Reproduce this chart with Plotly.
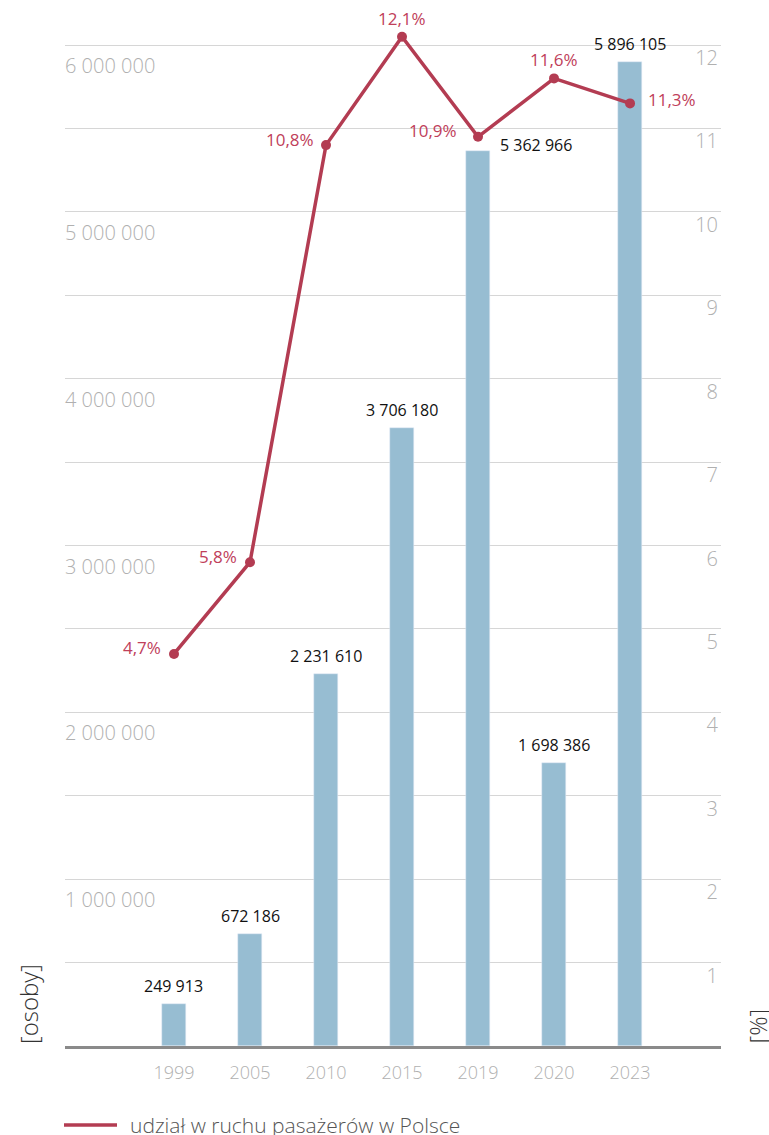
import plotly.graph_objects as go

years = ["1999", "2005", "2010", "2015", "2019", "2020", "2023"]
passengers = [249913, 672186, 2231610, 3706180, 5362966, 1698386, 5896105]
passenger_labels = ["249 913", "672 186", "2 231 610", "3 706 180", "5 362 966", "1 698 386", "5 896 105"]
share = [4.7, 5.8, 10.8, 12.1, 10.9, 11.6, 11.3]
share_labels = ["4,7%", "5,8%", "10,8%", "12,1%", "10,9%", "11,6%", "11,3%"]

left_tickvals = [500000 * i for i in range(1, 13)]
left_ticktext = ["", "1 000 000", "", "2 000 000", "", "3 000 000", "", "4 000 000", "", "5 000 000", "", "6 000 000"]
right_tickvals = list(range(1, 13))

BAR = "#97bdd2"
RED = "#b33c52"
LABEL_RED = "#c0405a"
TICK = "#b0b0b0"
FONT = "Open Sans"

# plot area: top edge sits a bit above the 12 % gridline so the line peak is not clipped
TOP_PAD = 0.3
PLOT_H = 1046 - 20

fig = go.Figure()

fig.add_trace(go.Bar(
    x=years,
    y=passengers,
    width=0.316,
    marker_color=BAR,
    showlegend=False,
    hoverinfo="skip",
))

fig.add_trace(go.Scatter(
    x=years,
    y=share,
    yaxis="y2",
    mode="lines+markers",
    name="udział w ruchu pasażerów w Polsce",
    line=dict(color=RED, width=3.5),
    marker=dict(size=10, color=RED),
    cliponaxis=False,
    showlegend=False,
))

# etykiety słupków (x jako indeks kategorii)
bar_offsets = {"5 362 966": dict(xanchor="left", yanchor="middle", xshift=20, yshift=6)}
for i, (val, txt) in enumerate(zip(passengers, passenger_labels)):
    pos = bar_offsets.get(txt, dict(xanchor="center", yanchor="bottom", xshift=0, yshift=5))
    fig.add_annotation(
        x=i, y=val, text=txt, showarrow=False,
        font=dict(family=FONT, size=16, color="#111"),
        **pos,
    )

# etykiety procentów
pct_pos = [
    dict(xanchor="right", yanchor="middle", xshift=-11, yshift=6),
    dict(xanchor="right", yanchor="middle", xshift=-11, yshift=6),
    dict(xanchor="right", yanchor="middle", xshift=-10, yshift=6),
    dict(xanchor="center", yanchor="bottom", xshift=0, yshift=5),
    dict(xanchor="right", yanchor="middle", xshift=-19, yshift=6),
    dict(xanchor="center", yanchor="bottom", xshift=0, yshift=5),
    dict(xanchor="left", yanchor="middle", xshift=16, yshift=4),
]
for i, (val, txt, pos) in enumerate(zip(share, share_labels, pct_pos)):
    fig.add_annotation(
        x=i, y=val, yref="y2", text=txt, showarrow=False,
        font=dict(family=FONT, size=17, color=LABEL_RED),
        **pos,
    )

# tytuły osi
fig.add_annotation(
    x=0, y=0, xref="paper", yref="paper", text="[osoby]", textangle=-90,
    showarrow=False, xanchor="center", yanchor="bottom", xshift=-37,
    font=dict(family=FONT, size=24, color="#333", weight=300),
)
fig.add_annotation(
    x=1, y=0, xref="paper", yref="paper", text="[%]", textangle=-90,
    showarrow=False, xanchor="center", yanchor="bottom", xshift=36,
    font=dict(family=FONT, size=24, color="#333", weight=300),
)

# legenda
fig.add_shape(
    type="line", xref="paper", yref="paper",
    x0=-1 / 656, x1=52 / 656, y0=-79 / PLOT_H, y1=-79 / PLOT_H,
    line=dict(color=RED, width=3.5),
)
fig.add_annotation(
    x=63 / 656, y=-79 / PLOT_H, xref="paper", yref="paper",
    text="udział w ruchu pasażerów w Polsce", showarrow=False,
    xanchor="left", yanchor="middle",
    font=dict(family=FONT, size=21, color="#555", weight=300),
)

fig.update_layout(
    width=769,
    height=1135,
    margin=dict(l=65, r=48, t=20, b=89, pad=0),
    paper_bgcolor="white",
    plot_bgcolor="white",
    font=dict(family=FONT),
    bargap=0,
    xaxis=dict(
        type="category",
        range=[-1.434, 7.197],
        showgrid=False,
        showline=True,
        linecolor="#8a8a8a",
        linewidth=2.5,
        ticks="",
        ticklabelstandoff=9,
        tickfont=dict(family=FONT, size=18, color=TICK, weight=300),
    ),
    yaxis=dict(
        range=[0, 500000 * (12 + TOP_PAD)],
        tickvals=left_tickvals,
        ticktext=left_ticktext,
        ticklabelposition="inside",
        ticklabelshift=21,
        ticklabelstandoff=-3,
        showgrid=True,
        gridcolor="#d6d6d6",
        gridwidth=1,
        zeroline=False,
        tickfont=dict(family=FONT, size=20, color=TICK, weight=300),
    ),
    yaxis2=dict(
        range=[0, 12 + TOP_PAD],
        overlaying="y",
        side="right",
        tickvals=right_tickvals,
        ticklabelposition="inside",
        ticklabelshift=13,
        ticklabelstandoff=0,
        showgrid=False,
        zeroline=False,
        tickfont=dict(family=FONT, size=20, color=TICK, weight=300),
    ),
)

fig.write_html(
    "out.html",
    config={"displayModeBar": False},
    post_script="document.body.style.margin='0';",
)
